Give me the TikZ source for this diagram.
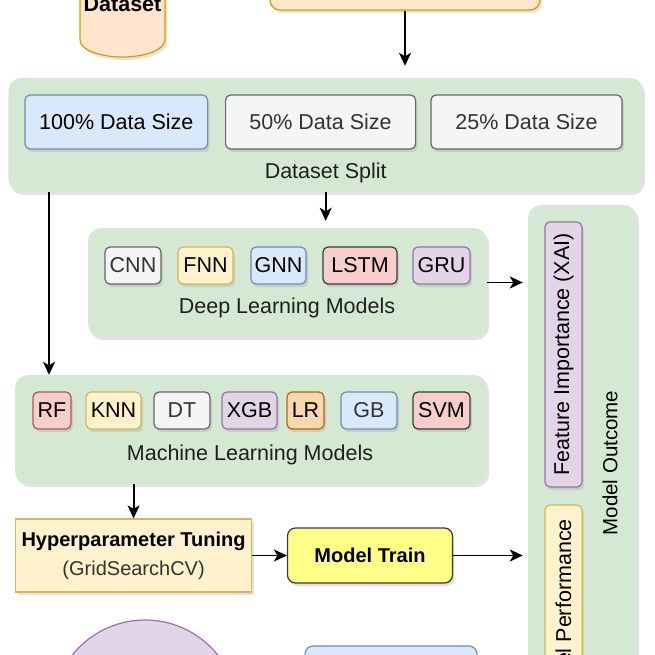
\documentclass[tikz,border=0pt]{standalone}
\usepackage{fontspec}
\setmainfont{Liberation Sans}
\usetikzlibrary{shadows,arrows.meta,calc}
\definecolor{cgreen}{HTML}{D5E8D4}
\definecolor{grayF}{HTML}{F5F5F5}\definecolor{grayD}{HTML}{666666}
\definecolor{yelF}{HTML}{FFF2CC}\definecolor{yelD}{HTML}{D6B656}
\definecolor{bluF}{HTML}{DAE8FC}\definecolor{bluD}{HTML}{6C8EBF}
\definecolor{redF}{HTML}{F8CECC}\definecolor{redD}{HTML}{B85450}
\definecolor{purF}{HTML}{E1D5E7}\definecolor{purD}{HTML}{9673A6}
\definecolor{oraF}{HTML}{FFE6CC}\definecolor{oraD}{HTML}{D79B00}
\definecolor{lrF}{HTML}{FAD7AC}\definecolor{lrD}{HTML}{B46504}
\definecolor{mtF}{HTML}{FFFF88}\definecolor{dkD}{HTML}{36393D}
\definecolor{txtG}{HTML}{333333}
\begin{document}
\begin{tikzpicture}[x=1pt,y=-1pt,
  shad/.style={drop shadow={shadow xshift=2pt,shadow yshift=-3pt,opacity=.22}},
  container/.style={fill=cgreen,draw=none,rounded corners=13pt,shad,inner sep=0pt},
  item/.style={rounded corners=5pt,line width=1.2pt,inner sep=0pt,shad,
     font=\fontsize{21.5}{24}\selectfont,minimum height=37pt},
  bigitem/.style={item,minimum height=54pt},
  lbl/.style={font=\fontsize{21.5}{24}\selectfont,text=black!88,inner sep=0pt},
  arr/.style={line width=1.8pt,-{Stealth[length=13pt,width=12pt,inset=3.5pt]}},
  gi/.style={fill=grayF,draw=grayD,text=txtG},
  yi/.style={fill=yelF,draw=yelD},
  bi/.style={fill=bluF,draw=bluD},
  ri/.style={fill=redF,draw=redD},
  rdi/.style={fill=redF,draw=dkD},
  pi/.style={fill=purF,draw=purD},
  oi/.style={fill=lrF,draw=lrD}]
\clip (0,0) rectangle (655,655);
\useasboundingbox (0,0) rectangle (655,655);

% top elements
\path[fill=oraF,draw=oraD,line width=1.2pt,shad]
  (80,-30) -- (80,40) arc[start angle=180,end angle=0,x radius=42.5,y radius=17] -- (165,-30) -- cycle;
\node[font=\fontsize{21.5}{24}\selectfont\bfseries,inner sep=0pt] (ds) at (122.5,4) {Dataset};
\node[fill=oraF,draw=oraD,line width=1.2pt,rounded corners=10pt,shad,minimum width=270pt,minimum height=60pt,inner sep=0pt] (top) at (405,-20) {};

% dataset split
\node[container,minimum width=634.6pt,minimum height=114pt] (split) at (325.7,135) {};
\node[bigitem,bi,minimum width=182.6pt,text=black] (d100) at (116.3,122) {100\% Data Size};
\node[bigitem,gi,minimum width=190pt] (d50) at (320.6,122) {50\% Data Size};
\node[bigitem,gi,minimum width=191pt] (d25) at (526.5,122) {25\% Data Size};
\node[lbl] (splitlbl) at (325.7,173) {Dataset Split};

% deep learning
\node[container,minimum width=399pt,minimum height=109pt] (dl) at (287.5,282.5) {};
\node[item,gi,minimum width=56pt] (cnn) at (133,265.5) {CNN};
\node[item,yi,minimum width=55pt] (fnn) at (205.5,265.5) {FNN};
\node[item,bi,minimum width=55pt] (gnn) at (278.5,265.5) {GNN};
\node[item,rdi,minimum width=74pt] (lstm) at (360,265.5) {LSTM};
\node[item,pi,minimum width=57pt] (gru) at (441.5,265.5) {GRU};
\node[lbl] (dllbl) at (287,308) {Deep Learning Models};

% machine learning
\node[container,minimum width=472pt,minimum height=109pt] (ml) at (251,429.5) {};
\node[item,ri,minimum width=38pt] (rf) at (52,410.5) {RF};
\node[item,yi,minimum width=55pt] (knn) at (113.5,410.5) {KNN};
\node[item,gi,minimum width=56pt] (dt) at (182,410.5) {DT};
\node[item,pi,minimum width=55pt] (xgb) at (249.5,410.5) {XGB};
\node[item,oi,minimum width=37pt] (lr) at (305.5,410.5) {LR};
\node[item,bi,minimum width=56pt,text=txtG] (gb) at (369,410.5) {GB};
\node[item,rdi,minimum width=57pt] (svm) at (441.5,410.5) {SVM};
\node[lbl] (mllbl) at (250,455) {Machine Learning Models};

% tuning and training
\node[fill=yelF,draw=yelD,line width=1.2pt,shad,minimum width=236pt,minimum height=73pt,inner sep=0pt,
  align=center,font=\fontsize{20}{29}\selectfont] (hyp) at (133.6,555.5)
  {\textbf{Hyperparameter Tuning}\\\textcolor{txtG}{(GridSearchCV)}};
\node[fill=mtF,draw=dkD,line width=1.2pt,rounded corners=8pt,shad,minimum width=165pt,minimum height=55pt,
  inner sep=0pt,font=\fontsize{20}{24}\selectfont\bfseries] (mt) at (370,555.5) {Model Train};

% model outcome
\node[container,minimum width=109pt,minimum height=555pt] (mo) at (582.5,482.5) {};
\node[item,pi,rotate=90,minimum width=265pt,minimum height=37pt] (fi) at (563.5,354.5) {Feature Importance (XAI)};
\node[item,yi,rotate=90,minimum width=216pt,minimum height=37pt] (mp) at (563.5,613) {Model Performance};
\node[lbl,rotate=90,font=\fontsize{20.5}{24}\selectfont,text=black] (molbl) at (610,463) {Model Outcome};

% bottom partial shapes
\node[circle,fill=purF,draw=purD,line width=1.2pt,minimum size=186pt,inner sep=0pt] (circ) at (145,713) {};
\node[fill=bluF,draw=bluD,line width=1.2pt,rounded corners=8pt,minimum width=172pt,minimum height=68pt,inner sep=0pt] (bbox) at (391,680) {};

% connectors
\coordinate (s2ml) at (49,192);
\draw[arr,shorten >=12pt] (top.south) -- (top.south |- split.north);
\draw[arr] (s2ml) -- (s2ml |- ml.north);
\draw[arr,shorten >=7pt] (split.south) -- (split.south |- dl.north);
\draw[arr,shorten >=5pt] (dl.east) -- (dl.east -| mo.west);
\draw[arr] (hyp.north |- ml.south) -- (hyp.north);
\draw[arr] (hyp.east) -- (mt.west);
\draw[arr,shorten >=5pt] (mt.east) -- (mt.east -| mo.west);
\end{tikzpicture}
\end{document}
